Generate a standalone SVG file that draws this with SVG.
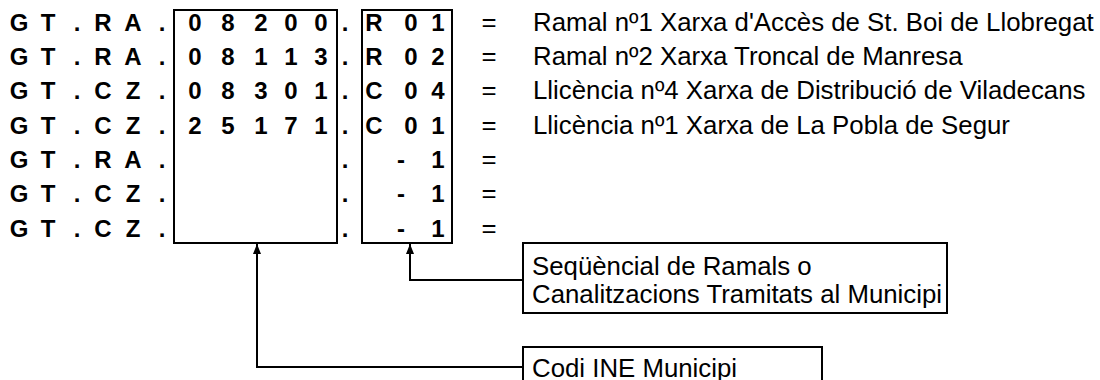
<svg xmlns="http://www.w3.org/2000/svg" width="1100" height="380" viewBox="0 0 1100 380">
<defs>
<style>
.b{font-family:"Liberation Sans",Arial,sans-serif;font-weight:bold;font-size:24px;fill:#000;text-anchor:middle}
.t{font-family:"Liberation Sans",Arial,sans-serif;font-size:25.8px;fill:#000}
.eq{font-family:"Liberation Sans",Arial,sans-serif;font-size:25.8px;fill:#000;text-anchor:middle}
.box{fill:none;stroke:#000;stroke-width:2}
.ln{fill:none;stroke:#000;stroke-width:2}
</style>
<marker id="ah" viewBox="0 0 10 8" refX="10" refY="4" markerWidth="5" markerHeight="4" markerUnits="strokeWidth" orient="auto">
<path d="M0,0 L10,4 L0,8 z" fill="#000"/>
</marker>
</defs>
<rect width="1100" height="380" fill="#fff"/>
<g id="prefixes">
<text class="b" y="31"><tspan x="19">G</tspan><tspan x="48">T</tspan><tspan x="77">.</tspan><tspan x="103">R</tspan><tspan x="133">A</tspan><tspan x="162">.</tspan></text>
<text class="b" y="65"><tspan x="19">G</tspan><tspan x="48">T</tspan><tspan x="77">.</tspan><tspan x="103">R</tspan><tspan x="133">A</tspan><tspan x="162">.</tspan></text>
<text class="b" y="99"><tspan x="19">G</tspan><tspan x="48">T</tspan><tspan x="77">.</tspan><tspan x="103">C</tspan><tspan x="133">Z</tspan><tspan x="162">.</tspan></text>
<text class="b" y="134"><tspan x="19">G</tspan><tspan x="48">T</tspan><tspan x="77">.</tspan><tspan x="103">C</tspan><tspan x="133">Z</tspan><tspan x="162">.</tspan></text>
<text class="b" y="168"><tspan x="19">G</tspan><tspan x="48">T</tspan><tspan x="77">.</tspan><tspan x="103">R</tspan><tspan x="133">A</tspan><tspan x="162">.</tspan></text>
<text class="b" y="202"><tspan x="19">G</tspan><tspan x="48">T</tspan><tspan x="77">.</tspan><tspan x="103">C</tspan><tspan x="133">Z</tspan><tspan x="162">.</tspan></text>
<text class="b" y="237"><tspan x="19">G</tspan><tspan x="48">T</tspan><tspan x="77">.</tspan><tspan x="103">C</tspan><tspan x="133">Z</tspan><tspan x="162">.</tspan></text>
</g>
<g id="ine-box">
<rect class="box" x="174" y="10" width="163" height="233"/>
<text class="b" y="31"><tspan x="195">0</tspan><tspan x="228">8</tspan><tspan x="261">2</tspan><tspan x="291">0</tspan><tspan x="321">0</tspan></text>
<text class="b" y="65"><tspan x="195">0</tspan><tspan x="228">8</tspan><tspan x="261">1</tspan><tspan x="291">1</tspan><tspan x="321">3</tspan></text>
<text class="b" y="99"><tspan x="195">0</tspan><tspan x="228">8</tspan><tspan x="261">3</tspan><tspan x="291">0</tspan><tspan x="321">1</tspan></text>
<text class="b" y="134"><tspan x="195">2</tspan><tspan x="228">5</tspan><tspan x="261">1</tspan><tspan x="291">7</tspan><tspan x="321">1</tspan></text>
</g>
<g id="dots">
<text class="b" y="31" x="345">.</text>
<text class="b" y="65" x="345">.</text>
<text class="b" y="99" x="345">.</text>
<text class="b" y="134" x="345">.</text>
<text class="b" y="168" x="345">.</text>
<text class="b" y="202" x="345">.</text>
<text class="b" y="237" x="345">.</text>
</g>
<g id="seq-box">
<rect class="box" x="362" y="10" width="90" height="233"/>
<text class="b" y="31"><tspan x="374">R</tspan><tspan x="411">0</tspan><tspan x="438">1</tspan></text>
<text class="b" y="65"><tspan x="374">R</tspan><tspan x="411">0</tspan><tspan x="438">2</tspan></text>
<text class="b" y="99"><tspan x="374">C</tspan><tspan x="411">0</tspan><tspan x="438">4</tspan></text>
<text class="b" y="134"><tspan x="374">C</tspan><tspan x="411">0</tspan><tspan x="438">1</tspan></text>
<text class="b" y="168"><tspan x="401">-</tspan><tspan x="438">1</tspan></text>
<text class="b" y="202"><tspan x="401">-</tspan><tspan x="438">1</tspan></text>
<text class="b" y="237"><tspan x="401">-</tspan><tspan x="438">1</tspan></text>
</g>
<g id="meanings">
<text class="eq" x="489" y="31">=</text>
<text class="eq" x="489" y="65">=</text>
<text class="eq" x="489" y="99">=</text>
<text class="eq" x="489" y="134">=</text>
<text class="eq" x="489" y="168">=</text>
<text class="eq" x="489" y="202">=</text>
<text class="eq" x="489" y="237">=</text>
<text class="t" x="533" y="31">Ramal nº1 Xarxa d'Accès de St. Boi de Llobregat</text>
<text class="t" x="533" y="65">Ramal nº2 Xarxa Troncal de Manresa</text>
<text class="t" x="533" y="99">Llicència nº4 Xarxa de Distribució de Viladecans</text>
<text class="t" x="533" y="134">Llicència nº1 Xarxa de La Pobla de Segur</text>
</g>
<g id="label-seq">
<rect class="box" x="523" y="243" width="424" height="70"/>
<text class="t" x="532" y="275">Seqüèncial de Ramals o</text>
<text class="t" x="532" y="303">Canalitzacions Tramitats al Municipi</text>
</g>
<g id="label-ine">
<rect class="box" x="523" y="347" width="299" height="50"/>
<text class="t" x="532" y="377">Codi INE Municipi</text>
</g>
<g id="connectors">
<path class="ln" d="M523,280 H410 V244" marker-end="url(#ah)"/>
<path class="ln" d="M523,367 H257 V244" marker-end="url(#ah)"/>
</g>
</svg>
